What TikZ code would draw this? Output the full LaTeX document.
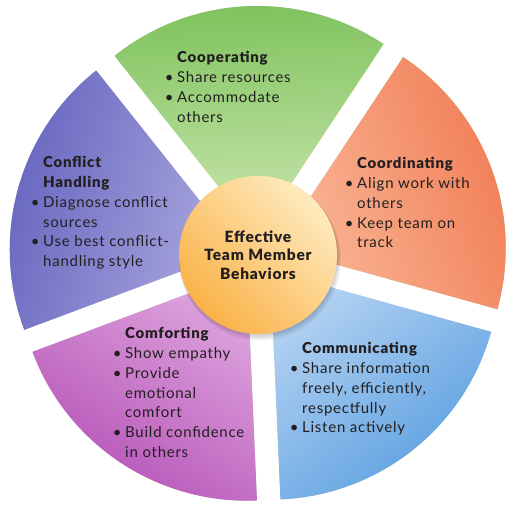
\documentclass[tikz,border=0pt]{standalone}
\usepackage{fontspec}
\setmainfont{Lato}[LetterSpace=5, BoldFont={Lato Black}]
\usepackage{tikz}
\usetikzlibrary{positioning}

\definecolor{coopO}{RGB}{122,192,88}
\definecolor{coopI}{RGB}{204,231,176}
\definecolor{coordO}{RGB}{240,122,82}
\definecolor{coordI}{RGB}{250,184,152}
\definecolor{commO}{RGB}{88,158,224}
\definecolor{commI}{RGB}{180,210,242}
\definecolor{comfO}{RGB}{180,80,182}
\definecolor{comfI}{RGB}{222,165,222}
\definecolor{conflO}{RGB}{98,98,190}
\definecolor{conflI}{RGB}{172,168,222}
\definecolor{hubO}{RGB}{250,178,72}
\definecolor{hubI}{RGB}{254,234,190}
\definecolor{ink}{RGB}{35,31,32}

\newcommand{\bul}{\llap{\textbullet\hspace{0.25em}}}

\begin{document}
\begin{tikzpicture}[x=1pt, y=1pt]
\tikzstyle{txt} = [anchor=north west, inner sep=0pt, align=left, text=ink, font=\fontsize{15}{19.7}\selectfont]
\tikzstyle{hub} = [circle, minimum size=158pt, inner sep=0pt, align=center, text=ink, font=\fontsize{15.5}{18.5}\selectfont\bfseries]

\useasboundingbox (0,0) rectangle (517,512);
\coordinate (c) at (258,257);

% soft shadows under the slices
\foreach \ang in {92.5,20.5,-51.5,-123.5,164.5}
  \foreach \s in {1,...,6}
    \fill[black, opacity=0.035, shift={(0.5*\s,-1.1*\s)}] ([shift={(\ang:20)}]c) -- ++(\ang-36:229) arc[start angle=\ang-36, end angle=\ang+36, radius=229] -- cycle;

% the five slices
\foreach \ang/\col [evaluate=\ang as \rot using \ang-90] in {92.5/coop,20.5/coord,-51.5/comm,-123.5/comf,164.5/confl}
  \path[top color=\col O, bottom color=\col I, shading angle=\rot] ([shift={(\ang:20)}]c) -- ++(\ang-36:229) arc[start angle=\ang-36, end angle=\ang+36, radius=229] -- cycle;

% centre
\foreach \s in {1,...,5}
  \fill[black, opacity=0.04] ([shift={(0.4*\s,-0.9*\s)}]c) circle[radius=79+0.4*\s];
\node[hub, top color=hubI, bottom color=hubO, shading angle=-45] (core) at (c) {Effective\\Team Member\\Behaviors};

\node[txt] (coop) at (177,460.5) {\textbf{Cooperating}\\ \bul Share resources\\ \bul Accommodate\\ others};
\node[txt] (coord) at (357,354.5) {\textbf{Coordinating}\\ \bul Align work with\\ others\\ \bul Keep team on\\ track};
\node[txt] (comm) at (302,169.5) {\textbf{Communicating}\\ \bul Share information\\ freely, efficiently,\\ respectfully\\ \bul Listen actively};
\node[txt] (comf) at (125,184.5) {\textbf{Comforting}\\ \bul Show empathy\\ \bul Provide\\ emotional\\ comfort\\ \bul Build confidence\\ in others};
\node[txt] (confl) at (43,355.5) {\textbf{Conflict}\\ \textbf{Handling}\\ \bul Diagnose conflict\\ sources\\ \bul Use best conflict-\\ handling style};
\end{tikzpicture}
\end{document}
